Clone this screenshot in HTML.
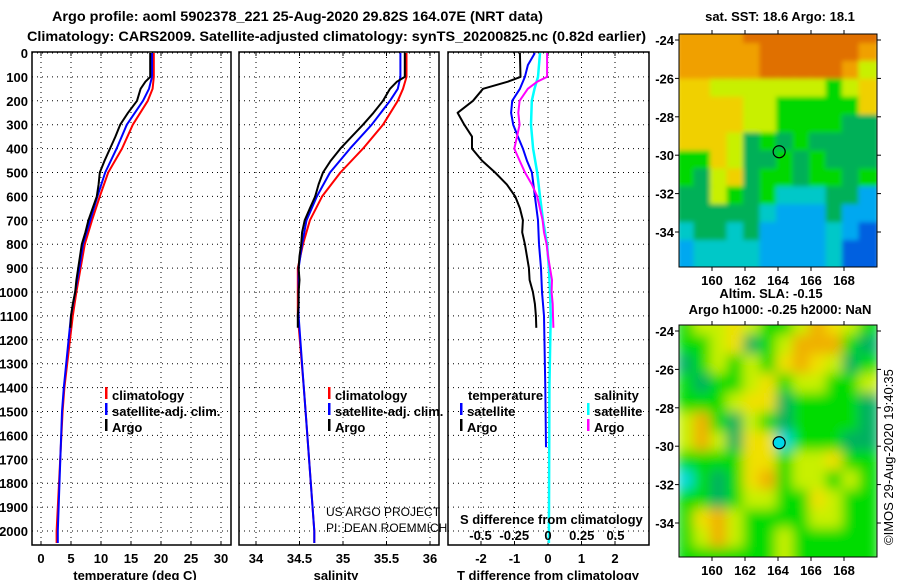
<!DOCTYPE html>
<html><head><meta charset="utf-8"><style>
html,body{margin:0;padding:0;background:#fff;}
svg{display:block;font-family:"Liberation Sans",sans-serif;font-weight:bold;}
</style></head><body>
<svg id="c" width="900" height="580" viewBox="0 0 900 580" xmlns="http://www.w3.org/2000/svg">
<text x="52" y="21" font-size="14" textLength="491" lengthAdjust="spacingAndGlyphs">Argo profile: aoml 5902378_221 25-Aug-2020 29.82S 164.07E (NRT data)</text>
<text x="27" y="41" font-size="14" textLength="619" lengthAdjust="spacingAndGlyphs">Climatology: CARS2009. Satellite-adjusted climatology: synTS_20200825.nc (0.82d earlier)</text>
<g id="g"></g>
</svg>
<script>
// ---------- data ----------
const depthTicks=[0,100,200,300,400,500,600,700,800,900,1000,1100,1200,1300,1400,1500,1600,1700,1800,1900,2000];
const tempTicks=[0,5,10,15,20,25,30];
const salTicks=[34,34.5,35,35.5,36];
const tdiffTicks=[-2,-1,0,1,2];
const sdiffTicks=[-0.5,-0.25,0,0.25,0.5];

const climDepth=[0,100,150,200,300,400,500,600,700,800,900,1000,1100,1400,1500,2000,2050];
const tempClim=[18.8,18.8,18.6,17.8,15.3,13.5,11.2,9.8,8.5,7.3,6.6,5.9,5.3,3.9,3.6,2.6,2.6];
const tempSat=[18.5,18.5,18.0,17.0,14.3,12.6,10.7,9.4,8.2,7.0,6.4,5.7,5.0,3.8,3.5,2.8,2.8];
const argoDepth=[0,100,120,150,200,250,300,350,400,450,500,550,600,650,700,750,800,850,900,950,1000,1050,1100,1150];
const tempArgo=[18.2,18.2,17.4,16.6,16.0,14.5,13.2,12.4,11.5,10.6,9.8,9.6,9.3,8.6,7.9,7.4,6.8,6.5,6.2,5.9,5.7,5.3,5.0,4.9];

const salClim=[35.73,35.73,35.69,35.63,35.46,35.23,34.97,34.76,34.62,34.54,34.48,34.48,34.48,34.55,34.57,34.67,34.67];
const salSat=[35.66,35.66,35.63,35.54,35.33,35.08,34.85,34.70,34.58,34.53,34.49,34.49,34.49,34.55,34.57,34.67,34.67];
const salArgo=[35.71,35.71,35.62,35.54,35.46,35.35,35.23,35.1,34.97,34.86,34.77,34.72,34.68,34.62,34.56,34.53,34.52,34.5,34.49,34.5,34.49,34.49,34.48,34.48];

const satDiffDepth=[0,50,100,150,200,250,300,350,400,450,500,600,700,800,900,1000,1100,1400,1650];
const tdiffSat=[-0.39,-0.6,-0.69,-0.84,-1.07,-1.1,-1.04,-0.9,-0.75,-0.63,-0.48,-0.39,-0.3,-0.27,-0.21,-0.18,-0.12,-0.08,-0.06];
const tdiffArgo=[-0.84,-0.82,-1.2,-1.94,-2.24,-2.7,-2.5,-2.27,-2.27,-1.97,-1.58,-1.23,-0.98,-0.84,-0.75,-0.77,-0.69,-0.63,-0.57,-0.55,-0.45,-0.39,-0.36,-0.35];
const sdiffDepth=[0,100,150,200,300,400,500,600,700,800,900,1000,1100,1400,2050];
const sdiffSat=[-0.059,-0.074,-0.10,-0.12,-0.126,-0.11,-0.08,-0.059,-0.037,-0.007,0.007,0.015,0.02,0.01,0.007];
const sdiffArgo=[-0.007,-0.007,-0.08,-0.15,-0.21,-0.22,-0.21,-0.23,-0.25,-0.21,-0.17,-0.12,-0.08,-0.06,-0.04,-0.03,-0.01,0.0,0.015,0.03,0.027,0.035,0.037,0.04];

const sstLat=[-24,-26,-28,-30,-32,-34];
const lonTicks=[160,162,164,166,168];
const sstGrid=["ooooOOOOOOOO","oooooOOOOOOo","oooooOOOOOoy","YYyyyyyyyGyY","YYYYyyGGGGGY","YYYYyyGGGGgg","YYYygGgGgggg","GGYyggGgGggg","GgyYgGGgGGgG","ggyGgGcccggb","gggggcbbbgbb","cggcgbbbbcbB","bccccbbbbcBB","bccccbbbbcBB"];
const slaGrid=["GyyYyGGyoYyG","GGyYgGyoooGg","gGyGyGYoYygG","GgGGyYGyyGGy","GGGyYYgGGGGg","yoGgyGgGGGGg","yoygYYcGGGgg","GGGGYYGyyYGG","cGgGYoGyyGyG","GGgGyyGGYyGG","GYoyGGGGyyGG","GyoyGGyGGGGG","GGGGGGyGGGGG"];
const sstCols={O:"#e07000",o:"#f0a000",Y:"#f0d000",y:"#c8f000",G:"#00d800",g:"#00b058",c:"#00c8c8",b:"#00a8f0",B:"#0060e0"};
const slaCols={O:"#f08000",o:"#f0b000",Y:"#f0e000",y:"#c8f000",G:"#00dc00",g:"#00b060",c:"#00d8d8"};

// ---------- helpers ----------
const NS="http://www.w3.org/2000/svg";
const G=document.getElementById('g');
function mk(tag,at,parent){const e=document.createElementNS(NS,tag);for(const k in at)e.setAttribute(k,at[k]);(parent||G).appendChild(e);return e;}
const Y0=53, PY=0.239;
const yD=d=>Y0+d*PY;
const PTOP=52, PBOT=545;
const xT=t=>41+t*6.0;
const xS=s=>256+(s-34)*87;
const xTd=v=>548+v*33.5;
const xSd=v=>548+v*135;

function panel(name,x0,x1,ticks,xf,fmt){
  const g=mk('g',{});
  
  
  depthTicks.forEach(d=>{mk('line',{x1:x0,x2:x1,y1:yD(d),y2:yD(d),stroke:'#000','stroke-width':1,'stroke-dasharray':'1,4'},g);});
  ticks.forEach(t=>{const x=xf(t);mk('line',{x1:x,x2:x,y1:PTOP,y2:PBOT,stroke:'#000','stroke-width':1,'stroke-dasharray':'1,4'},g);
    mk('line',{x1:x,x2:x,y1:PTOP,y2:PTOP+4,stroke:'#000'},g);mk('line',{x1:x,x2:x,y1:PBOT,y2:PBOT-4,stroke:'#000'},g);
    if(fmt){const tx=mk('text',{x:x,y:563,'font-size':13,'text-anchor':'middle'},g);tx.textContent=fmt(t);
      
      }
  });
  mk('rect',{x:x0,y:PTOP,width:x1-x0,height:PBOT-PTOP,fill:'none',stroke:'#000','stroke-width':1.5},g);
  return g;
}
function line(name,depths,vals,xf,color,w){
  const p=depths.map((d,i)=>xf(vals[i]).toFixed(1)+','+yD(d).toFixed(1)).join(' ');
  const e=mk('polyline',{points:p,fill:'none',stroke:color,'stroke-width':w||2,'stroke-linejoin':'round'});
  
  
}
function txt(name,x,y,s,size,anchor,weight){
  const e=mk('text',{x:x,y:y,'font-size':size||13,'text-anchor':anchor||'start'});
  if(weight)e.setAttribute('font-weight',weight);
  e.textContent=s;
  
  
  return e;
}
function mark(x,y,color){mk('rect',{x:x,y:y-13,width:2.5,height:12,fill:color});}

depthTicks.forEach(d=>{txt('y-tick-label',28,yD(d)+5,String(d),13,'end');});

panel('temperature-panel',32,231,tempTicks,xT,t=>String(t));
line('temp-climatology',climDepth,tempClim,xT,'#ff0000');
line('temp-satellite-adj',climDepth,tempSat,xT,'#0000ff');
line('temp-argo',argoDepth,tempArgo,xT,'#000000');
txt('x-axis-title-temperature',135,580,'temperature (deg C)',13,'middle');
mark(105,400,'#ff0000');txt('legend-climatology',112,400,'climatology');
mark(105,416,'#0000ff');txt('legend-satellite-adj',112,416,'satellite-adj. clim.');
mark(105,432,'#000');txt('legend-argo',112,432,'Argo');

panel('salinity-panel',239,439,salTicks,xS,t=>String(t));
line('sal-climatology',climDepth,salClim,xS,'#ff0000');
line('sal-satellite-adj',climDepth,salSat,xS,'#0000ff');
line('sal-argo',argoDepth,salArgo,xS,'#000000');
txt('x-axis-title-salinity',336,580,'salinity',13,'middle');
mark(328,400,'#ff0000');txt('legend-climatology-2',335,400,'climatology');
mark(328,416,'#0000ff');txt('legend-satellite-adj-2',335,416,'satellite-adj. clim.');
mark(328,432,'#000');txt('legend-argo-2',335,432,'Argo');
txt('credit-project',326,516,'US ARGO PROJECT',12,'start','normal');
txt('credit-pi',326,532,'PI: DEAN ROEMMICH',12,'start','normal');

panel('difference-panel',448,649,tdiffTicks,xTd,t=>String(t));
line('sdiff-satellite',sdiffDepth,sdiffSat,xSd,'#00ffff',2.5);
line('tdiff-satellite',satDiffDepth,tdiffSat,xTd,'#0000ff');
line('sdiff-argo',argoDepth,sdiffArgo,xSd,'#ff00ff');
line('tdiff-argo',argoDepth,tdiffArgo,xTd,'#000000');
txt('x-axis-title-tdiff',548,580,'T difference from climatology',13,'middle');
txt('legend-temperature-head',468,400,'temperature');
txt('legend-salinity-head',594,400,'salinity');
mark(460,416,'#0000ff');txt('legend-t-satellite',467,416,'satellite');
mark(460,432,'#000');txt('legend-t-argo',467,432,'Argo');
mark(587,416,'#00ffff');txt('legend-s-satellite',594,416,'satellite');
mark(587,432,'#ff00ff');txt('legend-s-argo',594,432,'Argo');
txt('s-diff-title',460,524,'S difference from climatology',13);
sdiffTicks.forEach(v=>{txt('s-diff-tick-label',xSd(v),540,String(v),13,'middle');});

const MX0=679,MX1=877;
const xL=l=>712+(l-160)*16.5;
function map(name,y0,y1,grid,cols,blur,filt){
  const g=mk('g',{});
  
  
  const clip='clip'+y0;
  const cp=mk('clipPath',{id:clip},g);mk('rect',{x:MX0,y:y0,width:MX1-MX0,height:y1-y0},cp);
  const inner=mk('g',{'clip-path':'url(#'+clip+')'},g);
  const target=mk('g',{filter:'url(#'+filt+')'},inner);
  const rows=grid.length,cols_=grid[0].length;
  const cw=(MX1-MX0)/cols_,ch=(y1-y0)/(rows-1);
  grid.forEach((r,i)=>{for(let j=0;j<r.length;j++){mk('rect',{x:MX0+j*cw-2,y:y0+i*ch-ch/2,width:cw+4,height:ch+2,fill:cols[r[j]]},target);}});
  mk('rect',{x:MX0,y:y0,width:MX1-MX0,height:y1-y0,fill:'none',stroke:'#000','stroke-width':1},g);
  const latY=l=>y0+6+(-24-l)*19.2;
  sstLat.forEach(l=>{const y=latY(l);
    mk('line',{x1:MX0-4,x2:MX0,y1:y,y2:y,stroke:'#000'},g);mk('line',{x1:MX1,x2:MX1+4,y1:y,y2:y,stroke:'#000'},g);
    const t=mk('text',{x:674,y:y+5,'font-size':13,'text-anchor':'end'},g);t.textContent=String(l);
    
    });
  lonTicks.forEach(l=>{const x=xL(l);
    mk('line',{x1:x,x2:x,y1:y0-4,y2:y0,stroke:'#000'},g);mk('line',{x1:x,x2:x,y1:y1,y2:y1+4,stroke:'#000'},g);
    const t=mk('text',{x:x,y:y1+18,'font-size':13,'text-anchor':'middle'},g);t.textContent=String(l);
    
    });
  mk('circle',{cx:xL(164.07),cy:latY(-29.82),r:6,fill:blur?'#00d8e8':'none',stroke:'#000','stroke-width':1.2},g);
  return g;
}
const defs=mk('defs',{});
const f=mk('filter',{id:'bl',x:'-10%',y:'-10%',width:'120%',height:'120%'},defs);
mk('feGaussianBlur',{stdDeviation:6},f);
const f2=mk('filter',{id:'bl2',x:'-10%',y:'-10%',width:'120%',height:'120%'},defs);
mk('feGaussianBlur',{stdDeviation:2.5},f2);
txt('sst-map-title',780,21,'sat. SST: 18.6 Argo: 18.1',13,'middle');
map('sst-map',34,267,sstGrid,sstCols,false,'bl2');
txt('sla-map-title',771,298,'Altim. SLA: -0.15',13,'middle');
txt('sla-map-subtitle',780,314,'Argo h1000: -0.25 h2000: NaN',13,'middle');
map('sla-map',325,557,slaGrid,slaCols,true,'bl');
const cr=txt('imos-credit',893,545,'\u00a9IMOS 29-Aug-2020 19:40:35',13,'start','normal');
cr.setAttribute('transform','rotate(-90 893 545)');
</script>
</body></html>
